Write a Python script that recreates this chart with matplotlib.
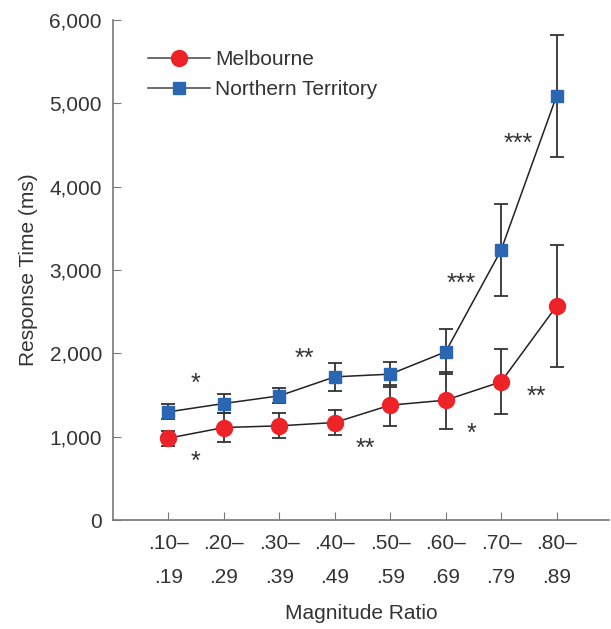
import numpy as np
import matplotlib.pyplot as plt
from matplotlib.lines import Line2D

# Data
ratio_labels = ['.10–\n.19', '.20–\n.29', '.30–\n.39', '.40–\n.49',
                '.50–\n.59', '.60–\n.69', '.70–\n.79', '.80–\n.89']
melbourne = [984, 1112, 1132, 1172, 1380, 1440, 1660, 2568]
melbourne_err = [90, 170, 150, 145, 245, 340, 390, 730]
northern = [1300, 1400, 1492, 1720, 1752, 2020, 3240, 5088]
northern_err = [90, 115, 90, 170, 150, 270, 550, 735]

# significance markers: (x, y, label)
stars_x = [1.48, 1.48, 3.46, 4.55, 6.29, 6.47, 7.31, 7.63]
stars_y = [1640, 700, 1940, 860, 2840, 1040, 4520, 1480]
stars_txt = ['*', '*', '**', '**', '***', '*', '***', '**']

plt.rcParams['font.family'] = ['Liberation Sans', 'DejaVu Sans']

txt = '#333333'
red = '#ee2328'
blue = '#2a66b2'
x = np.arange(1, len(ratio_labels) + 1)

fig = plt.figure(figsize=(6.11, 6.29), dpi=100)
ax = fig.add_axes([0.185, 0.173, 0.812, 0.795])

ax.errorbar(x, melbourne, yerr=melbourne_err, color='#222222', lw=1.1,
            marker='o', ms=11.5, mfc=red, mec=red,
            capsize=5, elinewidth=1.3, capthick=1.3, ecolor='#333333',
            zorder=3)
ax.errorbar(x, northern, yerr=northern_err, color='#222222', lw=1.1,
            marker='s', ms=9, mfc=blue, mec=blue,
            capsize=5, elinewidth=1.3, capthick=1.3, ecolor='#333333',
            zorder=3)

for sx, sy, st in zip(stars_x, stars_y, stars_txt):
    ax.text(sx, sy, st, ha='center', va='center', fontsize=18, color=txt)

ax.set_xlim(0, 8.95)
ax.set_ylim(0, 6000)
ax.set_yticks(np.arange(0, 6001, 1000))
ax.set_yticklabels([f'{v:,}' for v in range(0, 6001, 1000)])
ax.set_xticks(x)
ax.set_xticklabels(ratio_labels, linespacing=2.0)

for s in ['top', 'right']:
    ax.spines[s].set_visible(False)
for s in ['left', 'bottom']:
    ax.spines[s].set_color('#777777')
    ax.spines[s].set_linewidth(1.2)
ax.tick_params(direction='in', length=6, color='#777777', labelsize=15,
               labelcolor=txt)
ax.tick_params(axis='x', pad=10)
ax.tick_params(axis='y', pad=8)

ax.set_xlabel('Magnitude Ratio', fontsize=15, color=txt, labelpad=12)
ax.set_ylabel('Response Time (ms)', fontsize=15, color=txt, labelpad=8)

handles = [
    Line2D([], [], color='#444444', lw=1.1, marker='o', ms=11.5, mfc=red, mec=red),
    Line2D([], [], color='#444444', lw=1.1, marker='s', ms=9, mfc=blue, mec=blue),
]
ax.legend(handles, ['Melbourne', 'Northern Territory'], loc='upper left',
          bbox_to_anchor=(0.032, 0.977), frameon=False, fontsize=15,
          handlelength=3.0, labelspacing=0.5, handletextpad=0.25,
          labelcolor=txt)

fig.savefig('out.png', dpi=100)
